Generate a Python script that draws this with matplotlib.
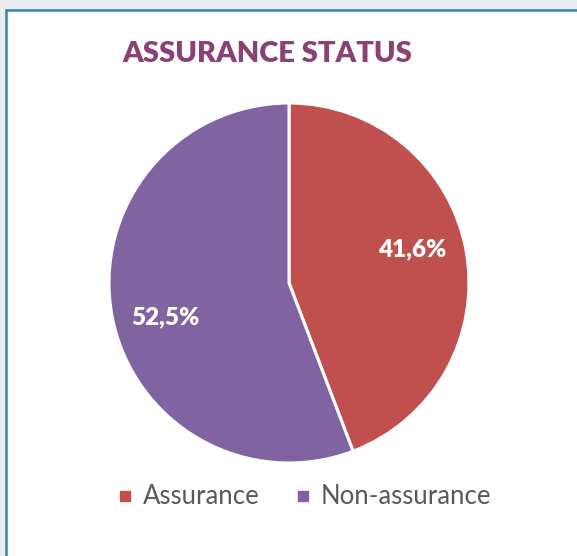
import matplotlib
matplotlib.use("Agg")
import numpy as np
import matplotlib.pyplot as plt
from matplotlib.patches import Rectangle
from matplotlib.lines import Line2D

# -------------------------------
# Data
# -------------------------------
categories = ["Assurance", "Non-assurance"]
shares = [41.6, 52.5]
share_labels = ["41,6%", "52,5%"]
colors = ["#c0504d", "#8064a2"]

# -------------------------------
# Figure + frame
# -------------------------------
W, H = 577, 556
fig = plt.figure(figsize=(W / 100, H / 100), dpi=100, facecolor="#eaedf2")

# white card with blue border (runs past the right/bottom edge)
card = Rectangle((6.2 / W, -0.1), 1.2, 1 - 10.2 / H + 0.1,
                 transform=fig.transFigure, facecolor="white",
                 edgecolor="#2e86b8", linewidth=1.8, zorder=-10)
fig.patches.append(card)

fig.text(267 / W, 1 - 53.5 / H, "ASSURANCE STATUS", ha="center", va="center",
         fontsize=21, fontweight="heavy", family="Lato", color="#8b4173")

# -------------------------------
# Pie
# -------------------------------
ax = fig.add_axes([109 / W, 1 - 463 / H, 360 / W, 360 / H])
labels_iter = iter(share_labels)
wedges, _, autotexts = ax.pie(
    shares, colors=colors, startangle=90, counterclock=False,
    autopct=lambda p: next(labels_iter), pctdistance=0.7,
    wedgeprops=dict(edgecolor="white", linewidth=2.2),
    textprops=dict(color="white", fontsize=17.5, fontweight="heavy", family="Lato"),
)
# excel nudged the labels a few degrees anticlockwise of the wedge centre
for w, t in zip(wedges, autotexts):
    ang = np.deg2rad((w.theta1 + w.theta2) / 2 + 5)
    t.set_position((0.71 * np.cos(ang), 0.71 * np.sin(ang)))
ax.set_xlim(-1, 1)
ax.set_ylim(-1, 1)
ax.set_aspect("equal")
ax.axis("off")

# -------------------------------
# Legend
# -------------------------------
handles = [Line2D([], [], marker="s", linestyle="", color=c, markersize=7)
           for c in colors]
fig.legend(handles, categories, loc="center", bbox_to_anchor=(303 / W, 1 - 497 / H),
           ncol=2, frameon=False, handletextpad=0.3, columnspacing=1.3,
           handlelength=0.8, prop=dict(family="Lato", size=18.5),
           labelcolor="#595959")

fig.savefig("out.png", dpi=100, facecolor=fig.get_facecolor())
